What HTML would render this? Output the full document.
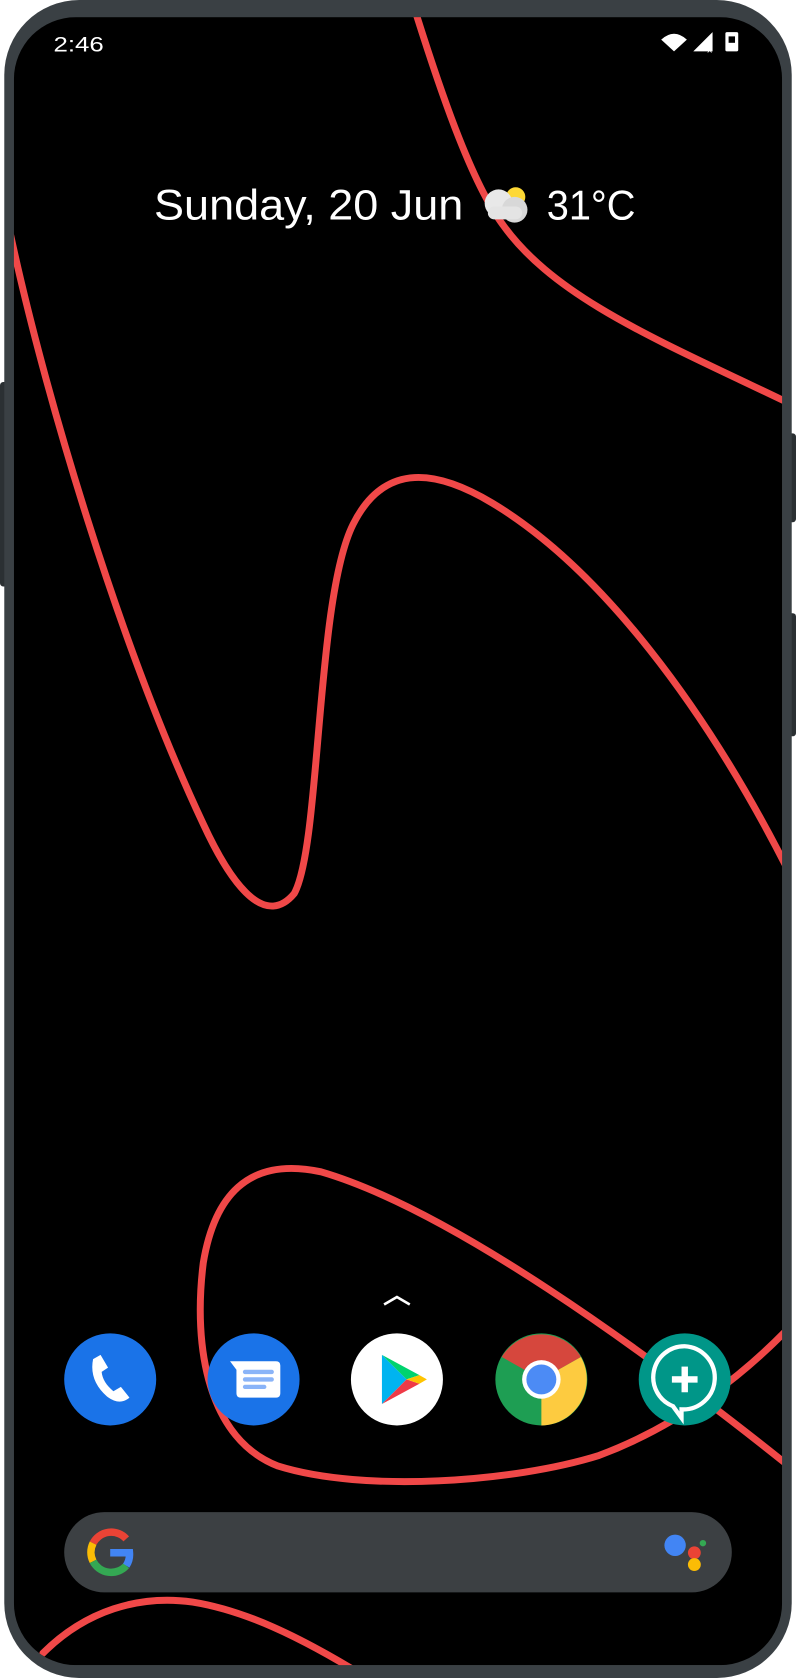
<!DOCTYPE html>
<html><head><meta charset="utf-8"><style>
html,body{margin:0;padding:0;background:#fff;}
svg{display:block;}
text{font-family:"Liberation Sans",sans-serif;}
</style></head><body>
<svg width="796" height="1678" viewBox="0 0 744 1568" preserveAspectRatio="none" xmlns="http://www.w3.org/2000/svg">
  <rect x="0" y="357" width="10" height="191" rx="3" fill="#2b3033"/>
  <rect x="734" y="405" width="10" height="83" rx="3" fill="#2b3033"/>
  <rect x="734" y="573" width="10" height="115" rx="3" fill="#2b3033"/>
  <rect x="4" y="0" width="736" height="1568" rx="70" fill="#3a4044"/>
  <defs><clipPath id="scr"><rect x="13" y="16" width="718" height="1540" rx="58"/></clipPath></defs>
  <g clip-path="url(#scr)">
    <rect x="13" y="16" width="718" height="1540" fill="#000"/>
    <g fill="none" stroke="#f04848" stroke-width="6.5" stroke-linecap="round">
      <path d="M388,10 C410,80 440,170 470,210 C520,280 620,320 740,378"/>
      <path d="M10,220 C40,360 110,600 190,770 C220,835 250,865 275,835 C300,790 295,560 330,490 C360,430 410,440 460,470 C560,530 660,660 740,820"/>
      <path d="M740,1372 C600,1260 420,1130 300,1095 C230,1080 200,1120 190,1180 C180,1260 195,1345 260,1370 C340,1395 480,1385 560,1360 C640,1330 700,1280 740,1238"/>
      <path d="M40,1545 C80,1505 130,1490 180,1497 C230,1505 280,1530 330,1560"/>
    </g>
  </g>
  <text x="50" y="48" font-size="20" textLength="47" lengthAdjust="spacingAndGlyphs" fill="#fff">2:46</text>
  <g>
    <path d="M618,37 Q630,26 642,37 L630,48 Z" fill="#fff"/>
    <path d="M648,48 L666,30 L666,48 Z" fill="#fff"/>
    <text x="661" y="49" font-size="9" fill="#fff">x</text>
    <rect x="678" y="30" width="12" height="18" rx="1.5" fill="#fff"/>
    <rect x="681" y="34" width="6" height="6" fill="#000"/>
  </g>
  <text x="144" y="205" font-size="40" textLength="289" lengthAdjust="spacingAndGlyphs" fill="#fff">Sunday, 20 Jun</text>
  <g>
    <circle cx="482" cy="184" r="9" fill="#fdd835"/>
    <circle cx="466" cy="190" r="13" fill="#e8e8e8"/>
    <circle cx="481" cy="196" r="12" fill="#d8d8d8"/>
    <rect x="456" y="193" width="32" height="12" rx="6" fill="#e4e4e4"/>
  </g>
  <text x="511" y="205" font-size="39" textLength="83" lengthAdjust="spacingAndGlyphs" fill="#fff">31°C</text>
  <path d="M359,1219 L371,1212 L383,1219" fill="none" stroke="#fff" stroke-width="2.5"/>
  <g>
    <circle cx="103" cy="1289" r="43" fill="#1a73e8"/>
    <path d="M87,1270 Q83,1290 100,1305 Q112,1314 121,1306 L113,1296 L106,1300 Q96,1292 95,1282 L101,1278 L94,1266 Z" fill="#fff"/>
  </g>
  <g>
    <circle cx="237" cy="1289" r="43" fill="#1a73e8"/>
    <path d="M215,1272 L258,1272 Q262,1272 262,1276 L262,1302 Q262,1306 258,1306 L225,1306 Q221,1306 221,1302 L221,1280 Z" fill="#fff"/>
    <rect x="227" y="1280" width="29" height="4" rx="2" fill="#8ab4f8"/>
    <rect x="227" y="1287" width="29" height="4" rx="2" fill="#8ab4f8"/>
    <rect x="227" y="1294" width="22" height="4" rx="2" fill="#8ab4f8"/>
  </g>
  <g>
    <circle cx="371" cy="1289" r="43" fill="#fff"/>
    <path d="M357,1266 L357,1312 L380,1289 Z" fill="#00b4f0"/>
    <path d="M357,1266 L392,1285 L380,1289 Z" fill="#00d36e"/>
    <path d="M357,1312 L392,1293 L380,1289 Z" fill="#ef3a47"/>
    <path d="M392,1285 L399,1289 L392,1293 L380,1289 Z" fill="#ffc400"/>
  </g>
  <g>
    <circle cx="506" cy="1289" r="43" fill="#1e9e53"/>
    <path d="M506,1289 L469,1268 A43,43 0 0 1 543,1268 Z" fill="#d6473d"/>
    <path d="M506,1289 L543,1268 A43,43 0 0 1 506,1332 Z" fill="#fdcb40"/>
    <circle cx="506" cy="1289" r="18" fill="#fff"/>
    <circle cx="506" cy="1289" r="14" fill="#4c8bf5"/>
  </g>
  <g>
    <circle cx="640" cy="1289" r="43" fill="#009688"/>
    <path d="M640,1258 A29,29 0 1 1 637,1317 L637,1325 L629,1314 A29,29 0 0 1 640,1258 Z" fill="none" stroke="#fff" stroke-width="4"/>
    <rect x="637" y="1277" width="6" height="24" fill="#fff"/>
    <rect x="628" y="1286" width="24" height="6" fill="#fff"/>
  </g>
  <rect x="60" y="1413" width="624" height="75" rx="37.5" fill="#3c4043"/>
  <g fill="none" stroke-width="7">
    <path d="M118,1438 A19,19 0 0 0 87,1442" stroke="#ea4335"/>
    <path d="M87,1442 A19,19 0 0 0 87,1459" stroke="#fbbc05"/>
    <path d="M87,1459 A19,19 0 0 0 118,1463" stroke="#34a853"/>
    <path d="M118,1463 A19,19 0 0 0 121,1451 L103,1451" stroke="#4285f4"/>
  </g>
  <g>
    <circle cx="631" cy="1444" r="10" fill="#4285f4"/>
    <circle cx="649" cy="1451" r="6" fill="#ea4335"/>
    <circle cx="657" cy="1442" r="3" fill="#34a853"/>
    <circle cx="649" cy="1462" r="6" fill="#fbbc05"/>
  </g>
</svg>
</body></html>
